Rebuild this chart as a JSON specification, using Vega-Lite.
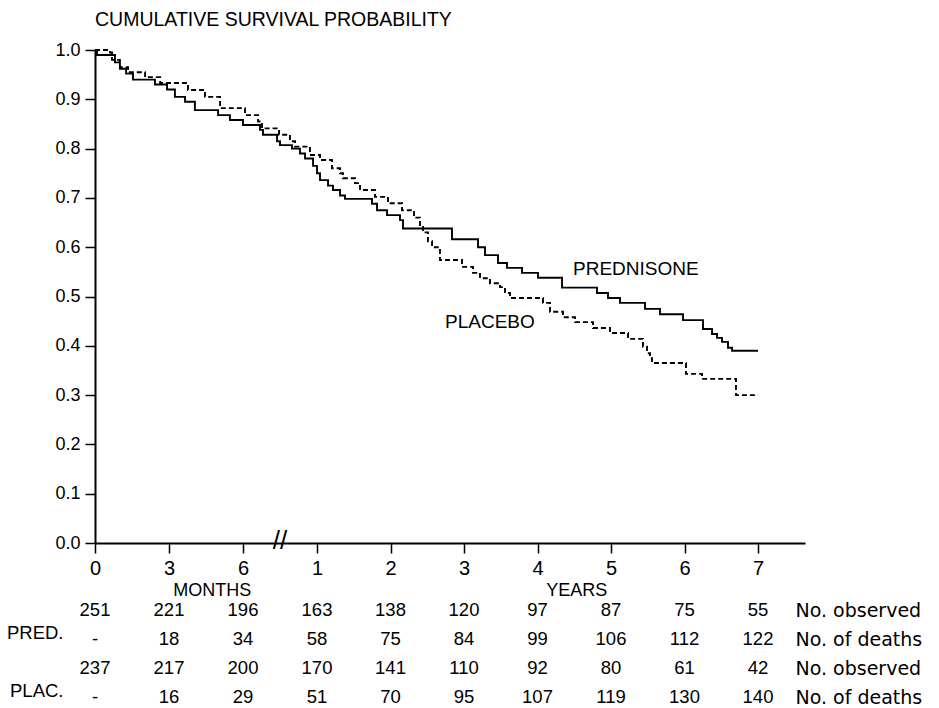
{
  "$schema": "https://vega.github.io/schema/vega-lite/v6.json",
  "autosize": {"type": "none"},
  "padding": {"left": 95, "top": 50, "right": 134, "bottom": 165},
  "width": 710,
  "height": 493,
  "background": "white",
  "config": {
    "view": {"stroke": null},
    "font": "Liberation Sans",
    "axis": {"grid": false, "domainColor": "black", "tickColor": "black", "labelColor": "black", "title": null}
  },
  "title": {"text": "CUMULATIVE SURVIVAL PROBABILITY", "anchor": "start", "frame": "group", "font": "Liberation Sans", "fontSize": 19.5, "fontWeight": "normal", "color": "black", "offset": 11},
  "datasets": {
    "curves": [
      {"g": "PRED", "m": 0, "s": 1.0}, {"g": "PRED", "m": 0.08, "s": 0.99}, {"g": "PRED", "m": 0.81, "s": 0.975}, {"g": "PRED", "m": 1.01, "s": 0.962}, {"g": "PRED", "m": 1.26, "s": 0.952}, {"g": "PRED", "m": 1.54, "s": 0.94}, {"g": "PRED", "m": 2.43, "s": 0.93}, {"g": "PRED", "m": 2.92, "s": 0.92}, {"g": "PRED", "m": 3.24, "s": 0.905}, {"g": "PRED", "m": 3.65, "s": 0.895}, {"g": "PRED", "m": 4.05, "s": 0.878}, {"g": "PRED", "m": 4.99, "s": 0.868}, {"g": "PRED", "m": 5.47, "s": 0.858}, {"g": "PRED", "m": 6.0, "s": 0.848}, {"g": "PRED", "m": 7.38, "s": 0.838}, {"g": "PRED", "m": 7.62, "s": 0.828}, {"g": "PRED", "m": 8.76, "s": 0.815}, {"g": "PRED", "m": 9.0, "s": 0.807}, {"g": "PRED", "m": 9.97, "s": 0.8}, {"g": "PRED", "m": 10.62, "s": 0.79}, {"g": "PRED", "m": 11.03, "s": 0.78}, {"g": "PRED", "m": 11.68, "s": 0.765}, {"g": "PRED", "m": 12.0, "s": 0.75}, {"g": "PRED", "m": 12.49, "s": 0.736}, {"g": "PRED", "m": 13.8, "s": 0.725}, {"g": "PRED", "m": 14.61, "s": 0.716}, {"g": "PRED", "m": 15.76, "s": 0.705}, {"g": "PRED", "m": 16.57, "s": 0.698}, {"g": "PRED", "m": 20.98, "s": 0.688}, {"g": "PRED", "m": 21.8, "s": 0.675}, {"g": "PRED", "m": 23.43, "s": 0.665}, {"g": "PRED", "m": 25.55, "s": 0.655}, {"g": "PRED", "m": 26.04, "s": 0.638}, {"g": "PRED", "m": 34.04, "s": 0.616}, {"g": "PRED", "m": 38.29, "s": 0.6}, {"g": "PRED", "m": 39.43, "s": 0.584}, {"g": "PRED", "m": 41.55, "s": 0.568}, {"g": "PRED", "m": 43.02, "s": 0.558}, {"g": "PRED", "m": 45.47, "s": 0.548}, {"g": "PRED", "m": 48.08, "s": 0.538}, {"g": "PRED", "m": 52.0, "s": 0.518}, {"g": "PRED", "m": 57.71, "s": 0.507}, {"g": "PRED", "m": 59.51, "s": 0.497}, {"g": "PRED", "m": 61.47, "s": 0.487}, {"g": "PRED", "m": 65.55, "s": 0.475}, {"g": "PRED", "m": 68.0, "s": 0.464}, {"g": "PRED", "m": 71.76, "s": 0.452}, {"g": "PRED", "m": 75.02, "s": 0.434}, {"g": "PRED", "m": 76.49, "s": 0.424}, {"g": "PRED", "m": 77.31, "s": 0.416}, {"g": "PRED", "m": 78.12, "s": 0.408}, {"g": "PRED", "m": 79.1, "s": 0.396}, {"g": "PRED", "m": 79.76, "s": 0.39}, {"g": "PRED", "m": 84, "s": 0.39},
      {"g": "PLAC", "m": 0, "s": 1.0}, {"g": "PLAC", "m": 0.61, "s": 0.995}, {"g": "PLAC", "m": 0.69, "s": 0.98}, {"g": "PLAC", "m": 1.01, "s": 0.965}, {"g": "PLAC", "m": 1.34, "s": 0.955}, {"g": "PLAC", "m": 2.03, "s": 0.945}, {"g": "PLAC", "m": 2.64, "s": 0.933}, {"g": "PLAC", "m": 3.77, "s": 0.919}, {"g": "PLAC", "m": 4.46, "s": 0.905}, {"g": "PLAC", "m": 5.07, "s": 0.882}, {"g": "PLAC", "m": 6.16, "s": 0.868}, {"g": "PLAC", "m": 7.22, "s": 0.855}, {"g": "PLAC", "m": 7.54, "s": 0.841}, {"g": "PLAC", "m": 8.92, "s": 0.828}, {"g": "PLAC", "m": 9.81, "s": 0.815}, {"g": "PLAC", "m": 10.22, "s": 0.804}, {"g": "PLAC", "m": 11.43, "s": 0.787}, {"g": "PLAC", "m": 12.49, "s": 0.777}, {"g": "PLAC", "m": 14.45, "s": 0.76}, {"g": "PLAC", "m": 15.76, "s": 0.75}, {"g": "PLAC", "m": 16.24, "s": 0.74}, {"g": "PLAC", "m": 18.2, "s": 0.73}, {"g": "PLAC", "m": 19.02, "s": 0.716}, {"g": "PLAC", "m": 21.47, "s": 0.702}, {"g": "PLAC", "m": 23.59, "s": 0.689}, {"g": "PLAC", "m": 25.88, "s": 0.675}, {"g": "PLAC", "m": 27.84, "s": 0.66}, {"g": "PLAC", "m": 28.82, "s": 0.645}, {"g": "PLAC", "m": 29.31, "s": 0.63}, {"g": "PLAC", "m": 30.12, "s": 0.612}, {"g": "PLAC", "m": 30.78, "s": 0.6}, {"g": "PLAC", "m": 32.08, "s": 0.574}, {"g": "PLAC", "m": 35.67, "s": 0.56}, {"g": "PLAC", "m": 37.47, "s": 0.548}, {"g": "PLAC", "m": 38.61, "s": 0.537}, {"g": "PLAC", "m": 40.24, "s": 0.527}, {"g": "PLAC", "m": 41.88, "s": 0.519}, {"g": "PLAC", "m": 42.69, "s": 0.507}, {"g": "PLAC", "m": 43.51, "s": 0.497}, {"g": "PLAC", "m": 48.9, "s": 0.487}, {"g": "PLAC", "m": 50.04, "s": 0.469}, {"g": "PLAC", "m": 52.16, "s": 0.458}, {"g": "PLAC", "m": 54.12, "s": 0.448}, {"g": "PLAC", "m": 57.06, "s": 0.436}, {"g": "PLAC", "m": 59.84, "s": 0.426}, {"g": "PLAC", "m": 62.78, "s": 0.414}, {"g": "PLAC", "m": 65.22, "s": 0.398}, {"g": "PLAC", "m": 65.88, "s": 0.385}, {"g": "PLAC", "m": 66.37, "s": 0.375}, {"g": "PLAC", "m": 66.69, "s": 0.365}, {"g": "PLAC", "m": 72.24, "s": 0.343}, {"g": "PLAC", "m": 74.86, "s": 0.333}, {"g": "PLAC", "m": 80.4, "s": 0.3}, {"g": "PLAC", "m": 84, "s": 0.3}
    ],
    "labels": [
      {"label": "PREDNISONE", "m": 53.8, "s": 0.555},
      {"label": "PLACEBO", "m": 32.9, "s": 0.448}
    ],
    "brk": [{"label": "//", "m": 9, "s": 0}],
    "table": [
      {"row": "obs_pred", "m": 0, "v": "251"}, {"row": "obs_pred", "m": 3, "v": "221"}, {"row": "obs_pred", "m": 6, "v": "196"}, {"row": "obs_pred", "m": 12, "v": "163"}, {"row": "obs_pred", "m": 24, "v": "138"}, {"row": "obs_pred", "m": 36, "v": "120"}, {"row": "obs_pred", "m": 48, "v": "97"}, {"row": "obs_pred", "m": 60, "v": "87"}, {"row": "obs_pred", "m": 72, "v": "75"}, {"row": "obs_pred", "m": 84, "v": "55"},
      {"row": "dth_pred", "m": 0, "v": "-"}, {"row": "dth_pred", "m": 3, "v": "18"}, {"row": "dth_pred", "m": 6, "v": "34"}, {"row": "dth_pred", "m": 12, "v": "58"}, {"row": "dth_pred", "m": 24, "v": "75"}, {"row": "dth_pred", "m": 36, "v": "84"}, {"row": "dth_pred", "m": 48, "v": "99"}, {"row": "dth_pred", "m": 60, "v": "106"}, {"row": "dth_pred", "m": 72, "v": "112"}, {"row": "dth_pred", "m": 84, "v": "122"},
      {"row": "obs_plac", "m": 0, "v": "237"}, {"row": "obs_plac", "m": 3, "v": "217"}, {"row": "obs_plac", "m": 6, "v": "200"}, {"row": "obs_plac", "m": 12, "v": "170"}, {"row": "obs_plac", "m": 24, "v": "141"}, {"row": "obs_plac", "m": 36, "v": "110"}, {"row": "obs_plac", "m": 48, "v": "92"}, {"row": "obs_plac", "m": 60, "v": "80"}, {"row": "obs_plac", "m": 72, "v": "61"}, {"row": "obs_plac", "m": 84, "v": "42"},
      {"row": "dth_plac", "m": 0, "v": "-"}, {"row": "dth_plac", "m": 3, "v": "16"}, {"row": "dth_plac", "m": 6, "v": "29"}, {"row": "dth_plac", "m": 12, "v": "51"}, {"row": "dth_plac", "m": 24, "v": "70"}, {"row": "dth_plac", "m": 36, "v": "95"}, {"row": "dth_plac", "m": 48, "v": "107"}, {"row": "dth_plac", "m": 60, "v": "119"}, {"row": "dth_plac", "m": 72, "v": "130"}, {"row": "dth_plac", "m": 84, "v": "140"}
    ],
    "units": [
      {"row": "obs_pred", "m": 4.75, "label": "MONTHS"},
      {"row": "obs_pred", "m": 54.4, "label": "YEARS"}
    ]
  },
  "resolve": {"scale": {"y": "independent"}, "axis": {"y": "independent"}},
  "layer": [
    {
      "layer": [
        {
          "data": {"name": "curves"},
          "mark": {"type": "line", "interpolate": "step-after", "color": "black", "strokeWidth": 1.9},
          "encoding": {
            "x": {"field": "m", "type": "quantitative", "scale": {"domain": [0, 6, 12, 91.67], "range": [0, 148, 222, 710], "nice": false, "zero": false},
              "axis": {"values": [0, 3, 6, 12, 24, 36, 48, 60, 72, 84], "labelExpr": "datum.value < 12 ? datum.value : datum.value / 12", "labelFontSize": 20, "labelPadding": 5, "tickSize": 10, "tickWidth": 1.5, "domainWidth": 2, "labelFlush": false}},
            "y": {"field": "s", "type": "quantitative", "scale": {"domain": [0, 1], "nice": false, "zero": false},
              "axis": {"orient": "left", "values": [0, 0.1, 0.2, 0.3, 0.4, 0.5, 0.6, 0.7, 0.8, 0.9, 1.0], "format": ".1f", "labelFontSize": 18, "labelPadding": 5, "tickSize": 10, "tickWidth": 1.5, "domainWidth": 2, "labelFlush": false}},
            "detail": {"field": "g"},
            "strokeDash": {"field": "g", "type": "nominal", "scale": {"domain": ["PRED", "PLAC"], "range": [[1, 0], [5, 3]]}, "legend": null}
          }
        },
        {
          "data": {"name": "labels"},
          "mark": {"type": "text", "align": "left", "baseline": "middle", "fontSize": 19, "color": "black"},
          "encoding": {
            "x": {"field": "m", "type": "quantitative"},
            "y": {"field": "s", "type": "quantitative"},
            "text": {"field": "label"}
          }
        },
        {
          "data": {"name": "brk"},
          "mark": {"type": "text", "align": "center", "baseline": "middle", "fontSize": 26, "fontWeight": "normal", "color": "black", "dy": -2},
          "encoding": {
            "x": {"field": "m", "type": "quantitative"},
            "y": {"field": "s", "type": "quantitative"},
            "text": {"field": "label"}
          }
        }
      ]
    },
    {
      "resolve": {"axis": {"y": "independent"}},
      "layer": [
        {
          "data": {"name": "table"},
          "mark": {"type": "text", "align": "center", "baseline": "middle", "fontSize": 18.5, "color": "black"},
          "encoding": {
            "x": {"field": "m", "type": "quantitative"},
            "y": {"field": "row", "type": "ordinal", "scale": {"type": "point", "domain": ["obs_pred", "dth_pred", "obs_plac", "dth_plac"], "range": [560, 647], "padding": 0},
              "axis": {"orient": "left", "labelExpr": "datum.value == 'dth_pred' ? 'PRED.' : datum.value == 'dth_plac' ? 'PLAC.' : ''", "domain": false, "ticks": false, "labelPadding": 32, "labelOffset": -7, "labelFontSize": 18.5}},
            "text": {"field": "v"}
          }
        },
        {
          "data": {"name": "table"},
          "mark": {"type": "text", "opacity": 0},
          "encoding": {
            "x": {"field": "m", "type": "quantitative"},
            "y": {"field": "row", "type": "ordinal", "scale": {"type": "point", "domain": ["obs_pred", "dth_pred", "obs_plac", "dth_plac"], "range": [560, 647], "padding": 0},
              "axis": {"orient": "right", "labelExpr": "indexof(datum.value, 'obs') == 0 ? 'No. observed' : 'No. of deaths'", "domain": false, "ticks": false, "labelPadding": 0, "offset": -10, "labelFont": "DejaVu Sans", "labelFontSize": 19, "labelLimit": 0}},
            "text": {"field": "v"}
          }
        },
        {
          "data": {"name": "units"},
          "mark": {"type": "text", "align": "center", "baseline": "middle", "fontSize": 18, "color": "black", "dy": -19},
          "encoding": {
            "x": {"field": "m", "type": "quantitative"},
            "y": {"field": "row", "type": "ordinal", "scale": {"type": "point", "domain": ["obs_pred", "dth_pred", "obs_plac", "dth_plac"], "range": [560, 647], "padding": 0}, "axis": null},
            "text": {"field": "label"}
          }
        }
      ]
    }
  ]
}
